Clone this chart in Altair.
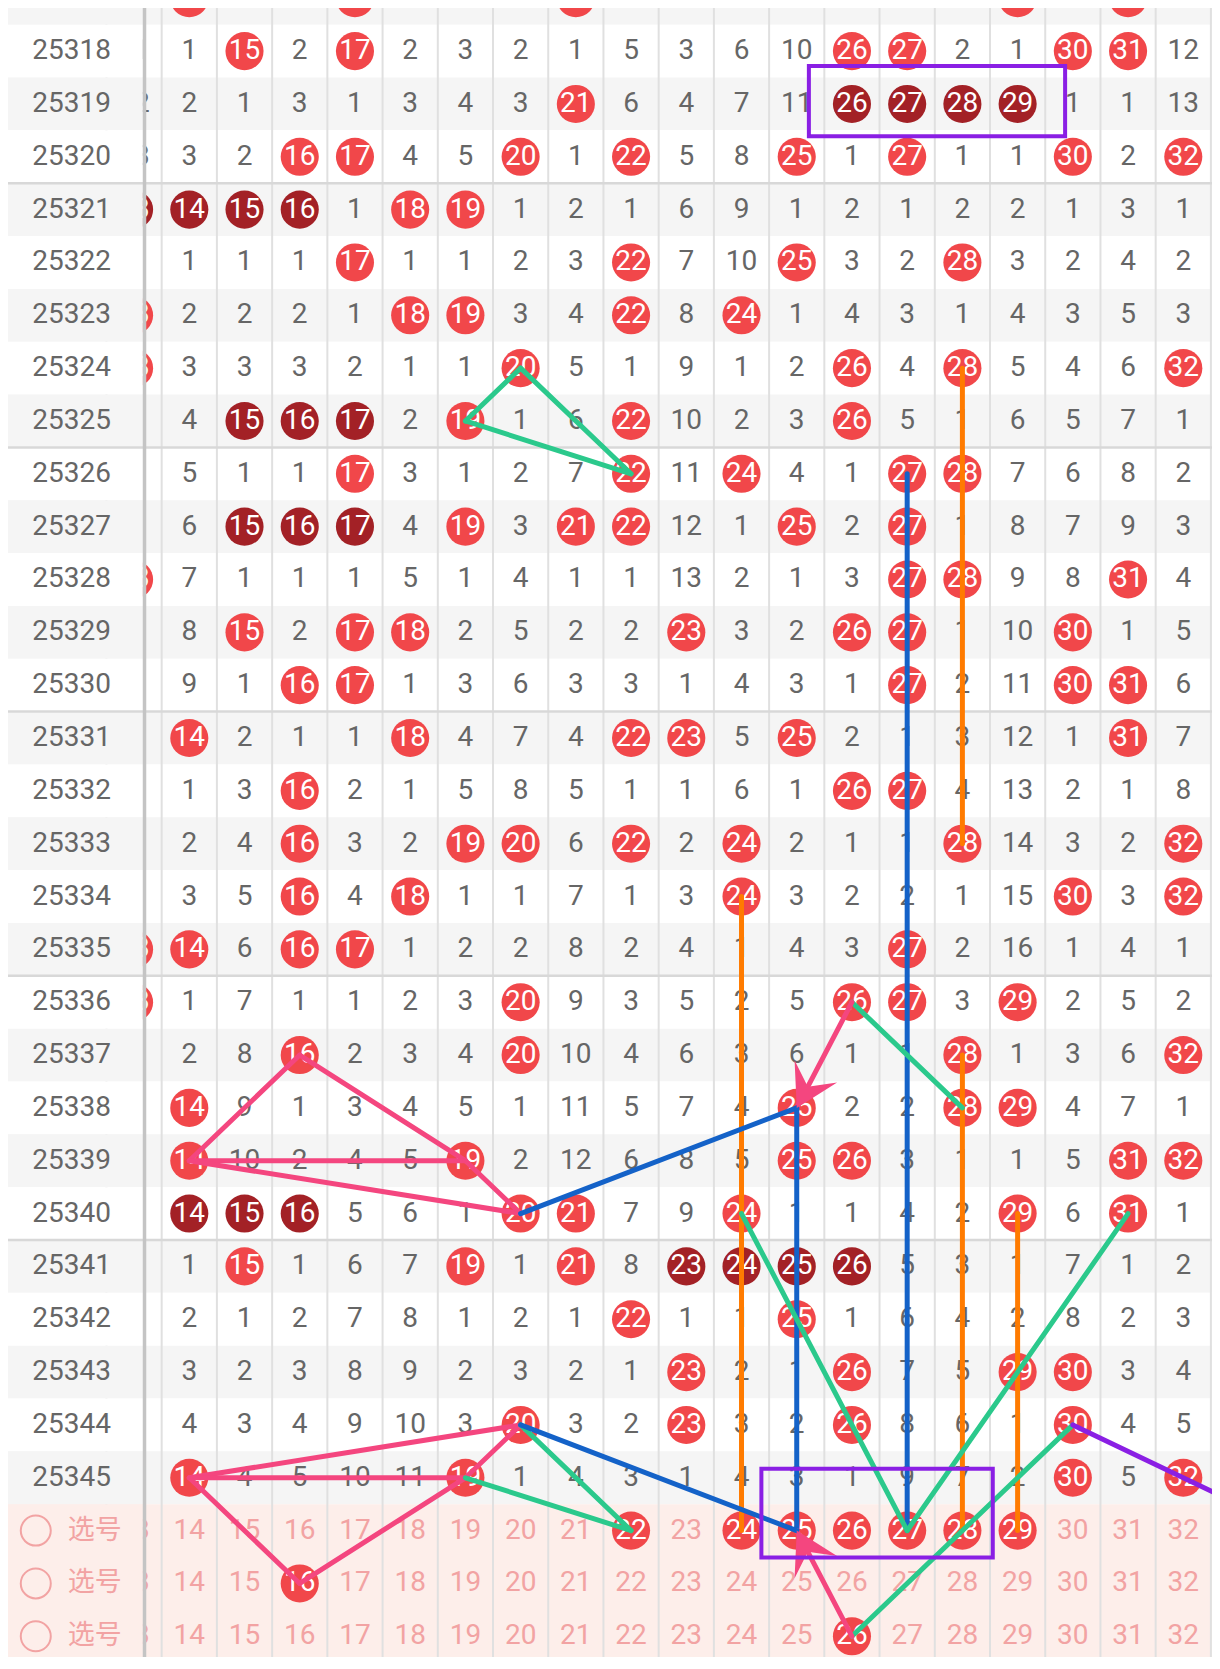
import math
import altair as alt
import pandas as pd

# ---------------- data ----------------
periods = list(range(25317, 25346))
columns = list(range(14, 33))

# omission counts for columns 14..32 (0 = number drawn in that period)
omissions = [
    [0, 2, 1, 0, 1, 2, 1, 0, 4, 2, 5, 9, 2, 10, 1, 0, 3, 0, 11],   # 25317
    [1, 0, 2, 0, 2, 3, 2, 1, 5, 3, 6, 10, 0, 0, 2, 1, 0, 0, 12],   # 25318
    [2, 1, 3, 1, 3, 4, 3, 0, 6, 4, 7, 11, 0, 0, 0, 0, 1, 1, 13],   # 25319
    [3, 2, 0, 0, 4, 5, 0, 1, 0, 5, 8, 0, 1, 0, 1, 1, 0, 2, 0],     # 25320
    [0, 0, 0, 1, 0, 0, 1, 2, 1, 6, 9, 1, 2, 1, 2, 2, 1, 3, 1],     # 25321
    [1, 1, 1, 0, 1, 1, 2, 3, 0, 7, 10, 0, 3, 2, 0, 3, 2, 4, 2],    # 25322
    [2, 2, 2, 1, 0, 0, 3, 4, 0, 8, 0, 1, 4, 3, 1, 4, 3, 5, 3],     # 25323
    [3, 3, 3, 2, 1, 1, 0, 5, 1, 9, 1, 2, 0, 4, 0, 5, 4, 6, 0],     # 25324
    [4, 0, 0, 0, 2, 0, 1, 6, 0, 10, 2, 3, 0, 5, 1, 6, 5, 7, 1],    # 25325
    [5, 1, 1, 0, 3, 1, 2, 7, 0, 11, 0, 4, 1, 0, 0, 7, 6, 8, 2],    # 25326
    [6, 0, 0, 0, 4, 0, 3, 0, 0, 12, 1, 0, 2, 0, 1, 8, 7, 9, 3],    # 25327
    [7, 1, 1, 1, 5, 1, 4, 1, 1, 13, 2, 1, 3, 0, 0, 9, 8, 0, 4],    # 25328
    [8, 0, 2, 0, 0, 2, 5, 2, 2, 0, 3, 2, 0, 0, 1, 10, 0, 1, 5],    # 25329
    [9, 1, 0, 0, 1, 3, 6, 3, 3, 1, 4, 3, 1, 0, 2, 11, 0, 0, 6],    # 25330
    [0, 2, 1, 1, 0, 4, 7, 4, 0, 0, 5, 0, 2, 1, 3, 12, 1, 0, 7],    # 25331
    [1, 3, 0, 2, 1, 5, 8, 5, 1, 1, 6, 1, 0, 0, 4, 13, 2, 1, 8],    # 25332
    [2, 4, 0, 3, 2, 0, 0, 6, 0, 2, 0, 2, 1, 1, 0, 14, 3, 2, 0],    # 25333
    [3, 5, 0, 4, 0, 1, 1, 7, 1, 3, 0, 3, 2, 2, 1, 15, 0, 3, 0],    # 25334
    [0, 6, 0, 0, 1, 2, 2, 8, 2, 4, 1, 4, 3, 0, 2, 16, 1, 4, 1],    # 25335
    [1, 7, 1, 1, 2, 3, 0, 9, 3, 5, 2, 5, 0, 0, 3, 0, 2, 5, 2],     # 25336
    [2, 8, 0, 2, 3, 4, 0, 10, 4, 6, 3, 6, 1, 1, 0, 1, 3, 6, 0],    # 25337
    [0, 9, 1, 3, 4, 5, 1, 11, 5, 7, 4, 0, 2, 2, 0, 0, 4, 7, 1],    # 25338
    [0, 10, 2, 4, 5, 0, 2, 12, 6, 8, 5, 0, 0, 3, 1, 1, 5, 0, 0],   # 25339
    [0, 0, 0, 5, 6, 1, 0, 0, 7, 9, 0, 1, 1, 4, 2, 0, 6, 0, 1],     # 25340
    [1, 0, 1, 6, 7, 0, 1, 0, 8, 0, 0, 0, 0, 5, 3, 1, 7, 1, 2],     # 25341
    [2, 1, 2, 7, 8, 1, 2, 1, 0, 1, 1, 0, 1, 6, 4, 2, 8, 2, 3],     # 25342
    [3, 2, 3, 8, 9, 2, 3, 2, 1, 0, 2, 1, 0, 7, 5, 0, 0, 3, 4],     # 25343
    [4, 3, 4, 9, 10, 3, 0, 3, 2, 0, 3, 2, 0, 8, 6, 1, 0, 4, 5],    # 25344
    [0, 4, 5, 10, 11, 0, 1, 4, 3, 1, 4, 3, 1, 9, 7, 2, 0, 5, 0],   # 25345
]
# partly hidden column 13 and hits in the cut-off column 33
col13 = [10, 11, 12, 13, 0, 1, 0, 0, 1, 2, 3, 0, 1, 2, 3, 4, 5, 6, 0, 0,
         1, 2, 3, 4, 5, 6, 7, 8, 9]
col33_hits = [25321, 25329, 25330, 25333, 25334]

pick_label = "选号"
pick_cols = list(range(13, 33))
pick_hits = [[22, 24, 25, 26, 27, 28, 29], [16], [26]]

# overlay lines: (col1, row1, col2, row2, colour); rows "S1".."S3" = pick rows
GREEN, PINK, BLUE, ORANGE, PURPLE = "#2bc98c", "#f4467f", "#1462c8", "#ff7b00", "#8a1fe4"
segments = [
    (20, 25324, 19, 25325, GREEN), (19, 25325, 22, 25326, GREEN), (20, 25324, 22, 25326, GREEN),
    (27, 25326, 27, "S1", BLUE),
    (28, 25324, 28, 25333, ORANGE), (28, 25337, 28, "S1", ORANGE),
    (24, 25334, 24, "S1", ORANGE), (29, 25340, 29, "S1", ORANGE),
    (26, 25336, 28, 25338, GREEN),
    (26, 25336, 25, 25338, PINK),
    (16, 25337, 14, 25339, PINK), (16, 25337, 19, 25339, PINK), (14, 25339, 19, 25339, PINK),
    (14, 25339, 20, 25340, PINK), (19, 25339, 20, 25340, PINK),
    (20, 25340, 25, 25338, BLUE), (25, 25338, 25, "S1", BLUE),
    (24, 25340, 27, "S1", GREEN), (31, 25340, 27, "S1", GREEN), (30, 25344, 26, "S3", GREEN),
    (26, "S3", 25, "S1", PINK),
    (30, 25344, 34, "S1", PURPLE),
    (20, 25344, 14, 25345, PINK), (14, 25345, 19, 25345, PINK), (14, 25345, 16, "S2", PINK),
    (16, "S2", 19, 25345, PINK), (19, 25345, 20, 25344, PINK),
    (20, 25344, 22, "S1", GREEN), (19, 25345, 22, "S1", GREEN),
    (20, 25344, 25, "S1", BLUE),
]
arrows = [(26, 25336, 25, 25338), (26, "S3", 25, "S1")]
# purple boxes: (left col, right col, top row, bottom row) in cell units
boxes = [(25.22, 29.86, 0.28, 1.61), (24.36, 28.55, 26.83, 28.51)]

# ---------------- layout ----------------
PX_COL, PX_ROW = 55.22, 52.84
W, H = 1204, 1649
X = alt.Scale(domain=[10.717, 32.520], nice=False, zero=False)
Y = alt.Scale(domain=[-0.8157, 30.392], nice=False, zero=False, reverse=True)
LABEL_X, LABEL_EDGE = 11.87, 13.16
FONT = "Roboto"
RED, DARK, GREY_TXT, PICK_TXT = "#f1474a", "#a32126", "#666666", "#f2a3a3"
STRIPE, PICK_BG, GRID = "#f5f5f5", "#fdeeea", "#e0e0e0"


def ri(r):
    if isinstance(r, str):
        return 27 + int(r[1])
    return r - 25318


def xe(f):
    return alt.X(f, type="quantitative", scale=X, axis=None)


def ye(f):
    return alt.Y(f, type="quantitative", scale=Y, axis=None)


# cells
cells = []
for p, row, c13v in zip(periods, omissions, col13):
    vals = {13: c13v}
    vals.update(dict(zip(columns, row)))
    hits = sorted([c for c, v in vals.items() if v == 0] + ([33] if p in col33_hits else []))
    dark = set()
    run = []
    for c in hits + [999]:
        if run and c == run[-1] + 1:
            run.append(c)
        else:
            if len(run) >= 3:
                dark.update(run)
            run = [c]
    for c in range(13, 34):
        hit = c in hits
        if c == 33 and not hit:
            continue
        cells.append(dict(c=c, i=ri(p), hit=hit,
                          fill=(DARK if c in dark else RED) if hit else "none",
                          txt=str(c) if hit else str(vals[c]),
                          tc="#ffffff" if hit else GREY_TXT))
for k, hl in enumerate(pick_hits):
    for c in pick_cols:
        hit = c in hl
        cells.append(dict(c=c, i=28 + k, hit=hit, fill=RED if hit else "none",
                          txt=str(c), tc="#ffffff" if hit else PICK_TXT))
cells = pd.DataFrame(cells)

# backgrounds
bg = []
for i in range(-1, 28):
    bg.append(dict(x=10.0, x2=34.0, y=i - 0.5, y2=i + 0.5, fill=STRIPE if i % 2 else "#ffffff"))
bg.append(dict(x=10.0, x2=34.0, y=27.5, y2=31.5, fill=PICK_BG))
bg = pd.DataFrame(bg)
cover = bg.copy()
cover["x2"] = LABEL_EDGE

vgrid = pd.DataFrame([dict(x=c + 0.5, y=-1.0, y2=31.5) for c in range(12, 33)])
hsep = pd.DataFrame([dict(x=10.0, x2=34.0, y=v) for v in [2.5, 7.5, 12.5, 17.5, 22.5]])
labels = pd.DataFrame([dict(x=LABEL_X, i=ri(p), t=str(p)) for p in periods])
pick_lab = pd.DataFrame([dict(x=12.29, cx=11.22, i=28 + k, t=pick_label) for k in range(3)])

seg = pd.DataFrame([dict(x=a, y=ri(b), x2=c, y2=ri(d), col=e) for a, b, c, d, e in segments])
arr = []
for a, b, c, d in arrows:
    dx = (c - a) * PX_COL
    dy = (ri(d) - ri(b)) * PX_ROW
    arr.append(dict(x=c, y=ri(d), ang=math.degrees(math.atan2(dx, -dy)) % 360))
arr = pd.DataFrame(arr)
box = pd.DataFrame([dict(x=a, x2=b, y=c, y2=d) for a, b, c, d in boxes])

# ---------------- marks ----------------
l_bg = alt.Chart(bg).mark_rect(clip=True).encode(
    x=xe("x"), x2="x2", y=ye("y"), y2="y2", color=alt.Color("fill:N", scale=None))
l_vgrid = alt.Chart(vgrid).mark_rule(clip=True, strokeWidth=2, color=GRID).encode(
    x=xe("x"), y=ye("y"), y2="y2")
l_circ = alt.Chart(cells).transform_filter("datum.hit").mark_point(
    clip=True, shape="circle", filled=True, size=1452, opacity=1).encode(
    x=xe("c"), y=ye("i"), color=alt.Color("fill:N", scale=None))
l_txt = alt.Chart(cells).mark_text(clip=True, font=FONT, fontSize=28, baseline="middle",
                                   align="center").encode(
    x=xe("c"), y=ye("i"), text="txt:N", color=alt.Color("tc:N", scale=None))
l_cover = alt.Chart(cover).mark_rect(clip=True).encode(
    x=xe("x"), x2="x2", y=ye("y"), y2="y2", color=alt.Color("fill:N", scale=None))
l_hsep = alt.Chart(hsep).mark_rule(clip=True, strokeWidth=2.5, color="#d8d8d8").encode(
    x=xe("x"), x2="x2", y=ye("y"))
l_edge = alt.Chart(pd.DataFrame([dict(x=13.189, y=-1.0, y2=31.5)])).mark_rule(
    clip=True, strokeWidth=3.5, color="#c4c4c4").encode(x=xe("x"), y=ye("y"), y2="y2")
l_lab = alt.Chart(labels).mark_text(clip=True, font=FONT, fontSize=28, color=GREY_TXT,
                                    baseline="middle", align="center").encode(
    x=xe("x"), y=ye("i"), text="t:N")
l_pick_c = alt.Chart(pick_lab).mark_point(shape="circle", filled=False, size=900,
                                          strokeWidth=2, color=PICK_TXT, opacity=1).encode(
    x=xe("cx"), y=ye("i"))
l_pick_t = alt.Chart(pick_lab).mark_text(font="Noto Sans CJK SC", fontSize=27, color=PICK_TXT,
                                         baseline="middle", align="center").encode(
    x=xe("x"), y=ye("i"), text="t:N")
l_seg = alt.Chart(seg).mark_rule(clip=True, strokeWidth=5, strokeCap="round").encode(
    x=xe("x"), y=ye("y"), x2="x2", y2="y2", color=alt.Color("col:N", scale=None))
l_arr = alt.Chart(arr).mark_point(clip=True, shape="M0,0 L-1,1.72 L0,1 L1,1.72 Z",
                                  filled=True, size=2300, color=PINK, opacity=1).encode(
    x=xe("x"), y=ye("y"), angle=alt.Angle("ang:Q", scale=None))
l_box = alt.Chart(box).mark_rect(clip=True, fill=None, fillOpacity=0, stroke=PURPLE,
                                 strokeWidth=4).encode(
    x=xe("x"), x2="x2", y=ye("y"), y2="y2")

chart = alt.layer(
    l_bg, l_vgrid, l_circ, l_txt, l_cover, l_hsep, l_edge, l_lab, l_pick_c, l_pick_t,
    l_seg, l_arr, l_box
).properties(
    width=W, height=H, padding=0,
    autosize=alt.AutoSizeParams(type="none"), background="#ffffff"
).configure_view(strokeWidth=0)

chart.save("out.html", embed_options={"renderer": "svg", "actions": False})
